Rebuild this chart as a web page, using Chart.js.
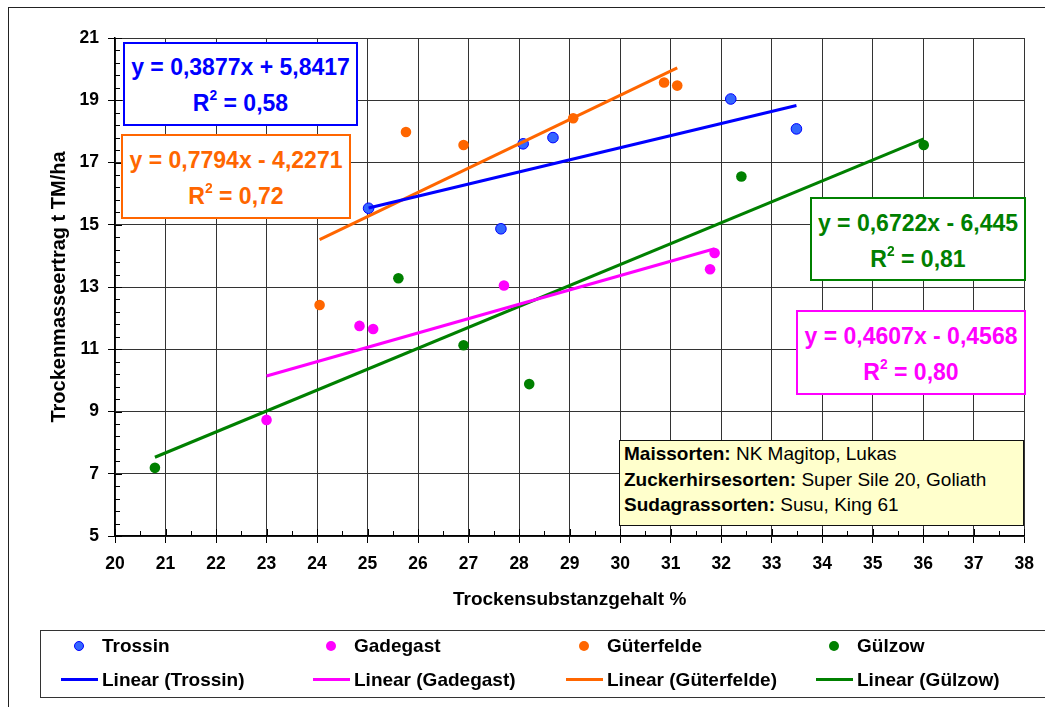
<!DOCTYPE html>
<html>
<head>
<meta charset="utf-8">
<script src="https://cdn.jsdelivr.net/npm/chart.js@4"></script>
<style>
  html, body { margin: 0; padding: 0; background: #fff; overflow: hidden; }
  body { font-family: "Liberation Sans", Arial, sans-serif; }
  #wrap { position: relative; width: 1045px; height: 707px; overflow: hidden; }
  #frame { position: absolute; left: 8px; top: 7px; width: 1100px; height: 800px; border: 1.5px solid #222; box-sizing: border-box; }
  canvas { position: absolute; left: 0; top: 0; }
  .eq { position: absolute; box-sizing: border-box; background: #fff; border: 2px solid; font-weight: bold; font-size: 23px; line-height: 36px; text-align: center; white-space: nowrap; }
  .eq sup { font-size: 0.6em; line-height: 0; position: relative; top: -0.15em; }
  #info { position: absolute; left: 619px; top: 440px; width: 405px; height: 86px; box-sizing: border-box; background: #ffffcc; border: 1.5px solid #111; font-size: 19px; line-height: 25.5px; padding-left: 4px; color: #000; white-space: nowrap; }
  #legend { position: absolute; left: 40px; top: 630px; width: 1050px; height: 68px; box-sizing: border-box; border: 1.5px solid #333; }
  .lg { position: absolute; font-size: 19px; font-weight: bold; color: #000; white-space: nowrap; line-height: 22px; }
  .dot { position: absolute; width: 10px; height: 10px; border-radius: 50%; box-sizing: border-box; }
  .bar { position: absolute; height: 3px; }
</style>
</head>
<body>
<div id="wrap">
  <div id="frame"></div>
  <canvas id="chart" width="1045" height="707"></canvas>
  <div id="boxes"></div>
  <div id="info"></div>
  <div id="legend"></div>
</div>
<script>
// values
const seriesNames = ["Trossin", "Gadegast", "Güterfelde", "Gülzow"];
const seriesColors = ["#0000ff", "#ff00ff", "#ff6600", "#008000"];
const pointFill = ["#3366ff", "#ff00ff", "#ff6600", "#008000"];

const trossinX = [25.02, 28.08, 28.67, 27.64, 32.19, 33.49];
const trossinY = [15.53, 17.60, 17.80, 14.87, 19.04, 18.08];
const gadegastX = [23.00, 24.84, 25.11, 27.70, 31.87, 31.78];
const gadegastY = [8.73, 11.75, 11.65, 13.05, 14.09, 13.57];
const gueterfeldeX = [24.05, 25.76, 26.90, 29.07, 30.87, 31.13];
const gueterfeldeY = [12.42, 17.98, 17.56, 18.42, 19.57, 19.47];
const guelzowX = [20.79, 25.61, 26.90, 28.20, 32.40, 36.01];
const guelzowY = [7.19, 13.28, 11.13, 9.88, 16.55, 17.56];

// trend line end points
const trossinTrendX = [25.02, 33.49];
const trossinTrendY = [15.54, 18.83];
const gadegastTrendX = [23.00, 31.87];
const gadegastTrendY = [10.14, 14.23];
const gueterfeldeTrendX = [24.05, 31.13];
const gueterfeldeTrendY = [14.52, 20.04];
const guelzowTrendX = [20.79, 36.01];
const guelzowTrendY = [7.53, 17.76];

const equations = ["y = 0,3877x + 5,8417", "y = 0,4607x - 0,4568", "y = 0,7794x - 4,2271", "y = 0,6722x - 6,445"];
const rSquared = ["0,58", "0,80", "0,72", "0,81"];

const xTickValues = [20, 21, 22, 23, 24, 25, 26, 27, 28, 29, 30, 31, 32, 33, 34, 35, 36, 37, 38];
const yTickValues = [5, 7, 9, 11, 13, 15, 17, 19, 21];

const xTitle = "Trockensubstanzgehalt %";
const yTitle = "Trockenmasseertrag t TM/ha";
const infoLines = [
  ["Maissorten:", " NK Magitop, Lukas"],
  ["Zuckerhirsesorten:", " Super Sile 20, Goliath"],
  ["Sudagrassorten:", " Susu, King 61"]
];

const font = '"Liberation Sans", Arial, sans-serif';
const pts = (xs, ys) => xs.map((x, i) => ({ x: x, y: ys[i] }));

const pointSets = [
  pts(trossinX, trossinY), pts(gadegastX, gadegastY),
  pts(gueterfeldeX, gueterfeldeY), pts(guelzowX, guelzowY)
];
const trendSets = [
  pts(trossinTrendX, trossinTrendY), pts(gadegastTrendX, gadegastTrendY),
  pts(gueterfeldeTrendX, gueterfeldeTrendY), pts(guelzowTrendX, guelzowTrendY)
];

const datasets = [];
seriesNames.forEach((name, i) => {
  datasets.push({
    label: name, data: pointSets[i], order: 2,
    pointRadius: 5.3, pointBackgroundColor: pointFill[i],
    pointBorderColor: seriesColors[i], pointBorderWidth: i === 0 ? 1 : 0,
    showLine: false
  });
});
seriesNames.forEach((name, i) => {
  datasets.push({
    label: "Linear (" + name + ")", data: trendSets[i], order: 1,
    showLine: true, borderColor: seriesColors[i], borderWidth: 3,
    pointRadius: 0, fill: false
  });
});

// small ticks inside the plot, like the original
const minorTicks = {
  id: 'minorTicks',
  afterDraw(chart) {
    const { ctx, scales: { x, y }, chartArea: a } = chart;
    ctx.save();
    ctx.strokeStyle = '#000';
    ctx.lineWidth = 1;
    ctx.beginPath();
    for (let k = 0; k <= 40; k++) {
      const v = 5 + k * 0.4;
      const p = Math.round(y.getPixelForValue(v)) + 0.5;
      const len = k % 5 === 0 ? 7 : 5;
      ctx.moveTo(a.left, p);
      ctx.lineTo(a.left + len, p);
    }
    for (let k = 0; k <= 36; k++) {
      const v = 20 + k * 0.5;
      const p = Math.round(x.getPixelForValue(v)) + 0.5;
      const len = k % 2 === 0 ? 7 : 5;
      ctx.moveTo(p, a.bottom);
      ctx.lineTo(p, a.bottom - len);
    }
    ctx.stroke();
    ctx.restore();
  }
};

new Chart(document.getElementById('chart'), {
  type: 'scatter',
  data: { datasets },
  plugins: [minorTicks],
  options: {
    responsive: false,
    animation: false,
    layout: { padding: { left: 0, top: 38, right: 17, bottom: 92 } },
    plugins: { legend: { display: false }, tooltip: { enabled: false } },
    scales: {
      x: {
        type: 'linear', min: 20, max: 38,
        afterBuildTicks: s => { s.ticks = xTickValues.map(v => ({ value: v })); },
        afterFit: s => { s.height = 79; },
        grid: { color: '#333', lineWidth: 1, tickLength: 7, tickColor: '#000' },
        border: { color: '#000', width: 1.5 },
        ticks: { color: '#000', font: { family: font, size: 17.5, weight: 'bold' }, padding: 11, maxRotation: 0, autoSkip: false },
        title: { display: true, text: xTitle, color: '#000', font: { family: font, size: 19, weight: 'bold' }, padding: { top: 0, bottom: 4 } }
      },
      y: {
        type: 'linear', min: 5, max: 21,
        afterBuildTicks: s => { s.ticks = yTickValues.map(v => ({ value: v })); },
        afterFit: s => { s.width = 115; },
        grid: { color: '#333', lineWidth: 1, tickLength: 7, tickColor: '#000' },
        border: { color: '#000', width: 1.5 },
        ticks: { color: '#000', font: { family: font, size: 17.5, weight: 'bold' }, padding: 9, autoSkip: false },
        title: { display: true, text: yTitle, color: '#000', font: { family: font, size: 20, weight: 'bold' }, padding: { top: 47, bottom: 0 } }
      }
    }
  }
});

// equation boxes
const boxPlaces = [
  { left: 123, top: 42, width: 235, height: 84, pad: 5 },
  { left: 796, top: 310, width: 230, height: 85, pad: 5.5 },
  { left: 121, top: 134, width: 230, height: 85, pad: 6 },
  { left: 810, top: 197, width: 216, height: 84, pad: 5.5 }
];
const boxes = document.getElementById('boxes');
equations.forEach((eq, i) => {
  const b = boxPlaces[i];
  const d = document.createElement('div');
  d.className = 'eq';
  Object.assign(d.style, {
    left: b.left + 'px', top: b.top + 'px', width: b.width + 'px', height: b.height + 'px',
    paddingTop: b.pad + 'px', color: seriesColors[i], borderColor: seriesColors[i]
  });
  d.innerHTML = eq + '<br>R<sup>2</sup> = ' + rSquared[i];
  boxes.appendChild(d);
});

document.getElementById('info').innerHTML = infoLines
  .map(l => '<div><b>' + l[0] + '</b>' + l[1] + '</div>').join('');

// legend, 4 columns x 2 rows
const legend = document.getElementById('legend');
const colX = [78, 330, 583, 833];
seriesNames.forEach((name, i) => {
  const cx = colX[i] - 40;
  const dot = document.createElement('div');
  dot.className = 'dot';
  Object.assign(dot.style, {
    left: (cx - 5) + 'px', top: (16 - 5 - 1.5) + 'px', background: pointFill[i],
    border: i === 0 ? '1px solid ' + seriesColors[i] : 'none'
  });
  legend.appendChild(dot);
  const t1 = document.createElement('div');
  t1.className = 'lg';
  t1.style.left = (cx + 23) + 'px';
  t1.style.top = (16 - 11 - 1.5) + 'px';
  t1.textContent = name;
  legend.appendChild(t1);

  const bar = document.createElement('div');
  bar.className = 'bar';
  Object.assign(bar.style, { left: (cx - 18) + 'px', width: '37px', top: (50 - 1.5 - 1.5) + 'px', background: seriesColors[i] });
  legend.appendChild(bar);
  const t2 = document.createElement('div');
  t2.className = 'lg';
  t2.style.left = (cx + 23) + 'px';
  t2.style.top = (50 - 11 - 1.5) + 'px';
  t2.textContent = 'Linear (' + name + ')';
  legend.appendChild(t2);
});
</script>
</body>
</html>
